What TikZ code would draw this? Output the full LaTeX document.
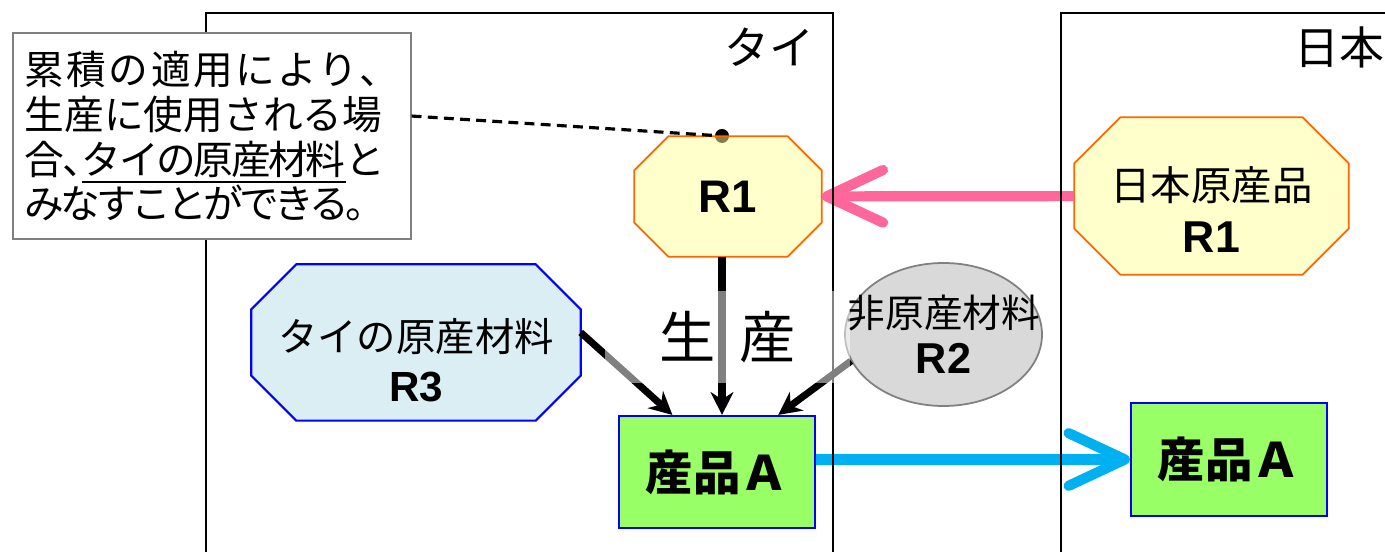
\documentclass[tikz,border=0pt]{standalone}
\usepackage{fontspec}
\setmainfont{Noto Sans CJK JP}
\newfontfamily\rfont{Liberation Sans}
\usetikzlibrary{positioning, arrows.meta, shapes, calc}
\pgfdeclarelayer{bg}
\pgfsetlayers{bg,main}

\definecolor{r1fill}{HTML}{FFFF99}
\definecolor{r1line}{HTML}{FF6600}
\definecolor{r3fill}{HTML}{DAEEF3}
\definecolor{r2fill}{HTML}{D9D9D9}
\definecolor{prodfill}{HTML}{99FF66}
\definecolor{pinkline}{HTML}{FF6699}
\definecolor{cyanline}{HTML}{00B0F0}

\begin{document}
\begin{tikzpicture}[
    oct/.style={rectangle, inner sep=0pt, align=center},
    octpath/.style 2 args={insert path={([xshift=#2]#1.north west) -- ([xshift=-#2]#1.north east) -- ([yshift=-#2]#1.north east)
        -- ([yshift=#2]#1.south east) -- ([xshift=-#2]#1.south east) -- ([xshift=#2]#1.south west)
        -- ([yshift=#2]#1.south west) -- ([yshift=-#2]#1.north west) -- cycle}},
    r1shape/.style={fill=r1fill, fill opacity=0.5, draw=r1line, line width=0.5pt},
    prod/.style={rectangle, draw=blue, fill=prodfill, line width=0.6pt, minimum width=1.96cm, minimum height=1.12cm, font=\fontsize{13.5pt}{16pt}\selectfont\bfseries},
    frame/.style={draw, line width=0.45pt},
    country/.style={inner sep=0pt, font=\fontsize{12.8pt}{15pt}\selectfont},
    arrow/.style={-{Stealth[length=6.5pt, width=6.5pt]}, line width=2pt},
    bigarrow/.style={-{Straight Barb[length=16pt, width=15pt, round]}, line width=2.9pt}
]
    \useasboundingbox (0,0) rectangle (13.85,5.52);

    % materials and products
    \node[oct, minimum width=1.86cm, minimum height=1.19cm] (r1th) at (7.28,3.555)
        {\rfont\bfseries\fontsize{13pt}{15pt}\selectfont R1};
    \node[oct, minimum width=2.73cm, minimum height=1.56cm,
        label={[align=center, yshift=-0.135cm, font=\fontsize{11.5pt}{15pt}\selectfont]center:日本原産品\\{\rfont\bfseries\fontsize{12.7pt}{15pt}\selectfont R1}}] (r1jp) at (12.115,3.56) {};
    \node[oct, minimum width=3.28cm, minimum height=1.55cm,
        label={[align=center, yshift=-0.175cm, font=\fontsize{11.2pt}{14.2pt}\selectfont]center:タイの原産材料\\{\rfont\bfseries\fontsize{12pt}{14.2pt}\selectfont R3}}] (r3) at (4.16,2.095) {};
    \node[ellipse, fill=r2fill, draw=gray, line width=0.5pt, inner sep=0pt, minimum width=1.97cm, minimum height=1.43cm,
        label={[align=center, font=\fontsize{11pt}{13.1pt}\selectfont]center:非原産材料\\{\rfont\bfseries\fontsize{12.3pt}{13.1pt}\selectfont R2}}] (r2) at (9.435,2.175) {};
    \node[prod] (prodth) at (7.17,0.80) {産品Ａ};
    \node[prod, minimum height=1.13cm] (prodjp) at (12.29,0.925) {産品Ａ};

    % octagon outlines, marker under R1
    \begin{pgfonlayer}{bg}
        \node[circle, fill=black, inner sep=0pt, minimum size=0.14cm] (dot) at (7.22,4.16) {};
        \draw[r1shape, octpath={r1th}{0.34cm}];
        \draw[r1shape, octpath={r1jp}{0.46cm}];
        \draw[fill=r3fill, draw=blue, line width=0.6pt, octpath={r3}{0.45cm}];
    \end{pgfonlayer}

    % flows
    \draw[bigarrow, pinkline] (r1jp) -- (r1th);
    \draw[bigarrow, cyanline] (prodth.east |- prodjp.west) -- (prodjp.west);
    \draw[arrow] ($(r3.east)+(0,0.1)$) -- (prodth.128);
    \draw[arrow] (r1th.south -| dot) -- (prodth.north -| dot);
    \draw[arrow] (r2.196) -- (prodth.43);

    % countries
    \draw[frame] (2.06,-0.05) |- (8.33,5.39) -- (8.33,-0.05);
    \draw[frame] (10.61,-0.05) |- (14,5.39);
    \node[country, anchor=east] (thai) at (8.15,5.05) {タイ};
    \node[country, anchor=west] (japan) at (12.94,5.05) {日本};

    % production label
    \node[fill=white, fill opacity=0.5, text opacity=1, minimum width=2.45cm, minimum height=0.92cm, font=\fontsize{16pt}{18pt}\selectfont] (seisan) at (7.275,2.15)
        {生\hspace{0.43em}産};

    % note
    \node[draw=gray, fill=white, line width=0.6pt, anchor=north west, minimum width=3.95cm, minimum height=2.06cm, align=left,
        font=\fontsize{11.3pt}{12.8pt}\selectfont] (note) at (0.12,5.20)
        {{\addfontfeatures{LetterSpace=6}累積の適用により、}\\生産に使用される場\\{\addfontfeatures{LetterSpace=-6}合、\kern-0.5em\underline{タイの原産材料}と}\\{\addfontfeatures{LetterSpace=-10}みなすことができる。}};
    \draw[dashed, dash pattern=on 2.8pt off 1.8pt, line width=0.9pt] ($(note.east)+(0,0.2)$) -- (dot);
\end{tikzpicture}
\end{document}
